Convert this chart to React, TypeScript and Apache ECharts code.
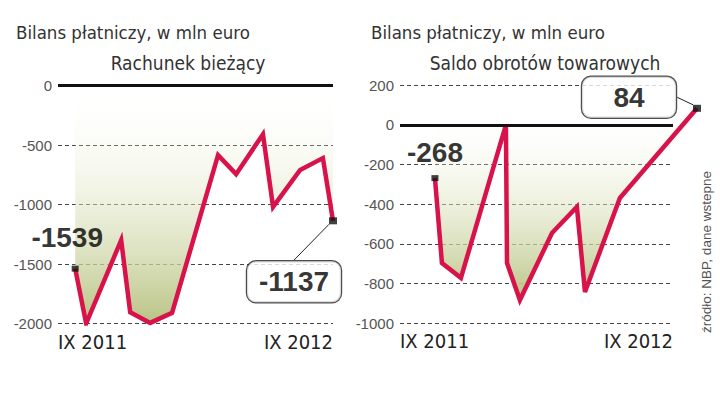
import React, { useEffect, useRef } from "react";
import * as echarts from "echarts";

// ---- data ----
const mainTitle = "Bilans płatniczy, w mln euro";
const leftSubtitle = "Rachunek bieżący";
const rightSubtitle = "Saldo obrotów towarowych";
const sourceText = "źródło: NBP, dane wstepne";
const xTickLabels = ["IX 2011", "IX 2012"];

// month offsets from IX 2011 (as positioned in the picture) and values
const leftMonths = [0, 0.51, 2.14, 2.56, 3.49, 4.51, 6.65, 7.49, 8.74, 9.21, 10.47, 11.53, 12];
const leftValues = [-1539, -2000, -1300, -1905, -1995, -1910, -585, -745, -410, -1020, -710, -610, -1137];

const rightMonths = [0, 0.32, 1.19, 3.25, 3.3, 3.89, 5.36, 6.5, 6.87, 8.47, 12];
const rightValues = [-268, -696, -771, 0, -696, -883, -545, -413, -842, -368, 84];

const RED = "#d8124a";
const NARROW = "'Liberation Sans Narrow', 'DejaVu Sans Condensed', 'Liberation Sans', sans-serif";
const SANS = "'Liberation Sans', Arial, sans-serif";

function pairs(xs: number[], ys: number[]) {
  return xs.map((x, i) => [x, ys[i]]);
}

export default function App() {
  const ref = useRef<HTMLDivElement>(null);

  useEffect(() => {
    document.body.style.margin = "0";
    if (!ref.current) return;
    const chart = echarts.init(ref.current, undefined, { renderer: "svg" });

    const areaColor = () =>
      new echarts.graphic.LinearGradient(0, 0, 0, 1, [
        { offset: 0, color: "rgba(255,255,245,0)" },
        { offset: 1, color: "#b9c383" },
      ]);

    const yLabel = {
      color: "#555",
      fontSize: 15,
      fontFamily: SANS,
      margin: 6,
      formatter: (v: number) => String(v),
    };
    const split = {
      show: true,
      lineStyle: { color: "#444", width: 1, type: [4, 3] as any },
    };

    const xLabelAxis = (grid: number, min: number, max: number) => ({
      gridIndex: grid,
      type: "value",
      min,
      max,
      axisLine: { show: false },
      axisTick: { show: false },
      splitLine: { show: false },
      axisLabel: {
        customValues: [min, max],
        showMinLabel: true,
        showMaxLabel: true,
        alignMinLabel: "left",
        alignMaxLabel: "right",
        formatter: (v: number) => (v === min ? xTickLabels[0] : xTickLabels[1]),
        color: "#222",
        fontSize: 20,
        fontFamily: NARROW,
        margin: 8,
      },
    });

    const hiddenAxis = (grid: number, min: number, max: number) => ({
      gridIndex: grid,
      type: "value",
      min,
      max,
      show: false,
      splitLine: { show: false },
    });

    const zeroLine = {
      silent: true,
      symbol: "none",
      label: { show: false },
      lineStyle: { color: "#111", width: 3, type: "solid" },
      data: [{ yAxis: 0 }],
    };

    const plainLabel = (text: string) => ({
      show: true,
      position: "inside",
      formatter: text,
      color: "#000",
      fontSize: 28,
      fontWeight: "bold",
      fontFamily: SANS,
    });

    const boxLabel = (text: string) => ({
      show: true,
      position: "inside",
      formatter: text,
      color: "#000",
      fontSize: 28,
      fontWeight: "bold",
      fontFamily: SANS,
      width: 72,
      align: "center",
      padding: [7, 11, 6, 11],
      backgroundColor: "#fff",
      borderColor: "#222",
      borderWidth: 1.2,
      borderRadius: 9,
    });

    const marker = (
      axis: number,
      x: number,
      y: number,
      label: any,
      dx: number,
      dy: number,
      line: boolean,
      size: number[]
    ) => ({
      type: "scatter",
      xAxisIndex: axis,
      yAxisIndex: axis,
      z: 5,
      clip: false,
      symbol: "rect",
      symbolSize: size,
      itemStyle: { color: "#111" },
      data: [[x, y]],
      label,
      labelLayout: { dx, dy },
      labelLine: line
        ? { show: true, lineStyle: { color: "#222", width: 1 } }
        : { show: false },
    });

    const lastL = leftMonths.length - 1;
    const lastR = rightMonths.length - 1;
    const titleStyle = (size: number) => ({
      fontFamily: NARROW,
      fontSize: size,
      fontWeight: "normal",
      color: "#333",
    });

    chart.setOption({
      animation: false,
      title: [
        { text: mainTitle, left: 11, top: 18, textStyle: titleStyle(18.5) },
        { text: mainTitle, left: 366, top: 18, textStyle: titleStyle(18.5) },
        { text: leftSubtitle, left: 183, top: 48, textAlign: "center", textStyle: titleStyle(19) },
        { text: rightSubtitle, left: 540, top: 48, textAlign: "center", textStyle: titleStyle(19) },
      ],
      grid: [
        // left chart
        { left: 58, top: 85.5, width: 275, height: 238 },
        // right chart: data area (reaches past the gridlines)
        { left: 400, top: 85.3, width: 297, height: 238 },
        // right chart: gridlines and labels
        { left: 400, top: 85.3, width: 273, height: 238 },
      ],
      xAxis: [
        xLabelAxis(0, -0.8, 12),
        hiddenAxis(1, -1.6, 12),
        xLabelAxis(2, -1.6, 10.9),
      ],
      yAxis: [
        {
          gridIndex: 0,
          type: "value",
          min: -2000,
          max: 0,
          interval: 500,
          axisLine: { show: false },
          axisTick: { show: false },
          axisLabel: yLabel,
          splitLine: split,
        },
        hiddenAxis(1, -1000, 200),
        {
          gridIndex: 2,
          type: "value",
          min: -1000,
          max: 200,
          interval: 200,
          axisLine: { show: false },
          axisTick: { show: false },
          axisLabel: yLabel,
          splitLine: split,
        },
      ],
      series: [
        {
          type: "line",
          xAxisIndex: 0,
          yAxisIndex: 0,
          data: pairs(leftMonths, leftValues),
          symbol: "none",
          z: 3,
          lineStyle: { color: RED, width: 4.5, join: "miter" },
          areaStyle: { origin: 0, color: areaColor(), opacity: 1 },
          markLine: zeroLine,
        },
        {
          // carrier of the right chart's zero line
          type: "line",
          xAxisIndex: 2,
          yAxisIndex: 2,
          data: [[0, 0]],
          symbol: "none",
          silent: true,
          z: 2,
          lineStyle: { opacity: 0 },
          markLine: zeroLine,
        },
        {
          type: "line",
          xAxisIndex: 1,
          yAxisIndex: 1,
          data: pairs(rightMonths, rightValues),
          symbol: "none",
          z: 3,
          lineStyle: { color: RED, width: 4.5, join: "miter" },
          areaStyle: { origin: 0, color: areaColor(), opacity: 1 },
        },
        marker(0, leftMonths[0], leftValues[0], plainLabel(String(leftValues[0])), -8, -31, false, [7, 6]),
        marker(0, leftMonths[lastL], leftValues[lastL], boxLabel(String(leftValues[lastL])), -39, 61, true, [8, 7]),
        marker(1, rightMonths[0], rightValues[0], plainLabel(String(rightValues[0])), 0, -26, false, [7, 6]),
        marker(1, rightMonths[lastR], rightValues[lastR], boxLabel(String(rightValues[lastR])), -68, -11, true, [8, 7]),
      ],
      graphic: [
        {
          type: "text",
          x: 706,
          y: 252,
          rotation: Math.PI / 2,
          style: {
            text: sourceText,
            fontSize: 13.5,
            fontFamily: SANS,
            fill: "#555",
            align: "center",
            verticalAlign: "middle",
          },
        },
      ],
    });

    return () => chart.dispose();
  }, []);

  return <div ref={ref} style={{ width: 720, height: 398 }} />;
}
